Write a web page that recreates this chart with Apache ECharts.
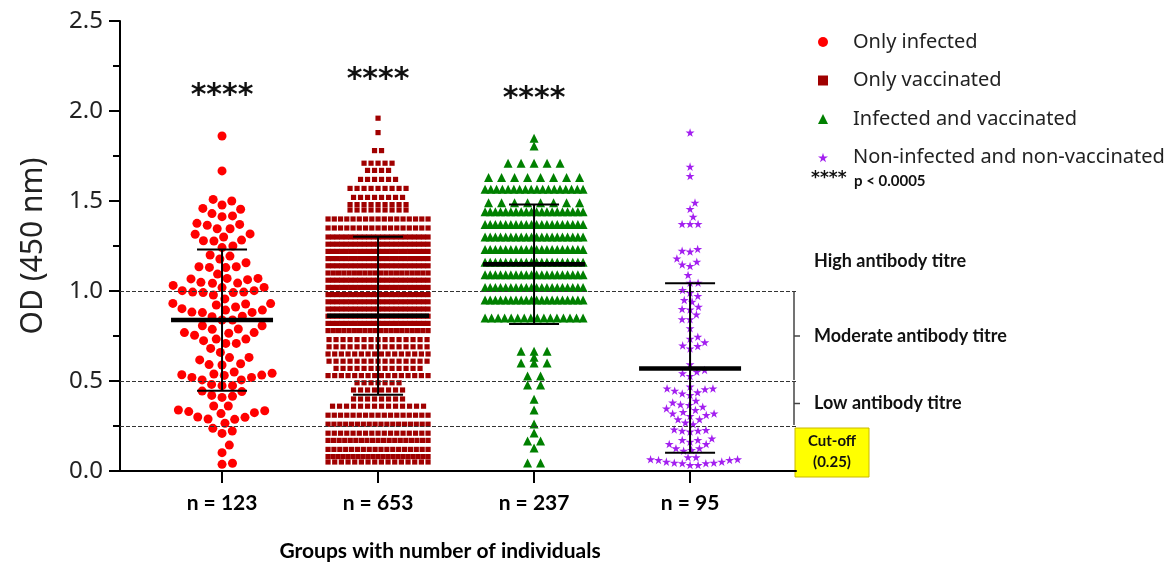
<!DOCTYPE html>
<html><head><meta charset="utf-8">
<script src="https://cdn.jsdelivr.net/npm/echarts@6/dist/echarts.min.js"></script>
<style>html,body{margin:0;padding:0;background:#fff}#c{width:1174px;height:566px}</style>
</head><body><div id="c"></div><script>
// ---------------- data ----------------
const groupNames = ['Only infected', 'Only vaccinated', 'Infected and vaccinated', 'Non-infected and non-vaccinated'];
const groupLabels = ['n = 123', 'n = 653', 'n = 237', 'n = 95'];

// Only infected: individual OD values
const g1Values = [1.861, 1.667,
  1.509, 1.478, 1.454, 1.459, 1.500, 1.430, 1.413, 1.417,
  1.346, 1.370, 1.365, 1.376, 1.346, 1.315, 1.317,
  1.283, 1.278, 1.279, 1.300, 1.241, 1.250, 1.194, 1.200, 1.178,
  1.135, 1.131, 1.130, 1.135, 1.157, 1.094,
  1.070, 1.067, 1.048, 1.043, 1.020, 1.019, 1.031, 1.044, 1.063, 1.070,
  1.002, 0.994, 0.991, 0.978, 0.991, 0.994, 1.002, 0.956,
  0.930, 0.911, 0.894, 0.883, 0.928, 0.880, 0.931, 0.857, 0.881, 0.894, 0.902, 0.922, 0.860,
  0.839, 0.839, 0.807, 0.789, 0.769, 0.765, 0.769, 0.787, 0.807,
  0.733, 0.724, 0.709, 0.681, 0.709, 0.733, 0.754,
  0.659, 0.630, 0.596, 0.589, 0.591, 0.617, 0.631,
  0.543, 0.535, 0.531, 0.520, 0.506, 0.481, 0.506, 0.520, 0.533, 0.539, 0.550,
  0.474, 0.444, 0.474, 0.441, 0.420, 0.409, 0.415,
  0.361, 0.300, 0.335, 0.287, 0.324, 0.265, 0.319, 0.330, 0.289, 0.339, 0.298, 0.361,
  0.209, 0.222, 0.237, 0.144, 0.102, 0.037, 0.043];

// Only vaccinated: OD level of each row of the swarm and number of points in it
const g2Levels = [1.96, 1.88, 1.78, 1.71, 1.67, 1.62, 1.57, 1.52, 1.48, 1.45, 1.40, 1.35,
  1.30, 1.26, 1.22, 1.18, 1.14, 1.10, 1.06, 1.02, 0.98, 0.94, 0.90, 0.86, 0.82, 0.78,
  0.73, 0.69, 0.65, 0.61, 0.57, 0.53, 0.49, 0.45, 0.40, 0.36, 0.31, 0.26, 0.21, 0.17, 0.12, 0.08, 0.05];
const g2Counts = [1, 1, 2, 5, 4, 6, 9, 8, 9, 9, 17, 17,
  23, 23, 23, 23, 23, 20, 23, 23, 23, 23, 23, 23, 23, 20,
  15, 15, 16, 15, 13, 16, 7, 8, 8, 14, 17, 18, 17, 19, 18, 21, 16];

// Infected and vaccinated: rows of the swarm
const g3Levels = [1.848, 1.806, 1.71, 1.63, 1.565, 1.49, 1.44, 1.37, 1.30, 1.23, 1.16, 1.09, 1.02, 0.95,
  0.85, 0.665, 0.632, 0.60, 0.528, 0.478, 0.398, 0.339, 0.261, 0.211, 0.166, 0.128, 0.044];
const g3Counts = [1, 1, 5, 8, 18, 8, 20, 20, 20, 20, 20, 20, 20, 20,
  16, 3, 1, 3, 2, 2, 1, 1, 1, 1, 2, 1, 2];

// Non-infected and non-vaccinated: individual OD values
const g4Values = [1.880, 1.691, 1.639, 1.491, 1.456, 1.413, 1.372, 1.372, 1.372,
  1.233, 1.219, 1.224, 1.181, 1.163, 1.148, 1.139, 1.089, 1.046, 1.046,
  1.006, 0.991, 0.972, 0.941, 0.913, 0.898, 0.870, 0.900, 0.843, 0.843, 0.793, 0.950,
  0.746, 0.735, 0.715, 0.694, 0.681, 0.698, 0.593, 0.552, 0.543, 0.561, 0.528,
  0.459, 0.454, 0.437, 0.422, 0.469, 0.431, 0.446, 0.459, 0.380, 0.391,
  0.370, 0.357, 0.339, 0.320, 0.311, 0.306, 0.320, 0.328, 0.348, 0.367,
  0.287, 0.269, 0.287, 0.260, 0.231, 0.224, 0.219, 0.224, 0.228,
  0.181, 0.172, 0.150, 0.126, 0.117, 0.113, 0.126, 0.150, 0.163, 0.172,
  0.076, 0.065, 0.061, 0.052, 0.046, 0.043, 0.033, 0.033, 0.043, 0.046, 0.052, 0.061, 0.065, 0.076];

// mean and error bar ends per group
const groupMeans = [0.839, 0.863, 1.148, 0.570];
const groupLower = [0.446, 0.424, 0.817, 0.102];
const groupUpper = [1.231, 1.302, 1.481, 1.043];

// significance stars
const sigGroups = [0, 1, 2];
const sigY = [2.083, 2.172, 2.067];
const sigText = '****';

// titre thresholds and bands
const thresholds = [1.0, 0.5, 0.25];
const bandTop = [1.0, 0.5];
const bandBottom = [0.5, 0.25];
const titreLabels = ['High antibody titre', 'Moderate antibody titre', 'Low antibody titre'];
const titreLabelY = [1.167, 0.75, 0.375];

// ---------------- layout ----------------
const W = 1174, H = 566;
const GRID = { left: 120, right: 378, top: 21, bottom: 95 };
const X_MIN = -0.654, X_MAX = 3.679, Y_MAX = 2.5;
const plotW = W - GRID.left - GRID.right;
const plotH = H - GRID.top - GRID.bottom;
const pxPerX = plotW / (X_MAX - X_MIN);
const pxPerY = plotH / Y_MAX;
const COLORS = ['#ff0000', '#a00000', '#008000', '#a31ff0'];
const STAR = 'path://M50,0 L61,35 L98,35 L68,57 L79,91 L50,70 L21,91 L32,57 L2,35 L39,35 Z';

function swarm(values, d) {
  const order = values.map((v, i) => i).sort((a, b) => values[a] - values[b]);
  const placed = [];
  const off = new Array(values.length).fill(0);
  let flip = 1;
  for (const i of order) {
    const y = values[i] * pxPerY;
    const near = placed.filter(p => Math.abs(p.y - y) < d);
    const cands = [0];
    near.forEach(p => {
      const dx = Math.sqrt(d * d - (p.y - y) * (p.y - y));
      cands.push(p.x + dx, p.x - dx);
    });
    cands.sort((a, b) => (Math.abs(a) - Math.abs(b)) || (flip * (a - b)));
    let x = 0;
    for (const c of cands) {
      if (near.every(p => (p.x - c) ** 2 + (p.y - y) ** 2 >= d * d - 1e-6)) { x = c; break; }
    }
    flip = -flip;
    placed.push({ x, y });
    off[i] = x;
  }
  return values.map((v, i) => ({ v, o: off[i] }));
}
function rows(levels, counts, nat, half) {
  const out = [];
  levels.forEach((lv, k) => {
    const n = counts[k];
    const step = n > 1 ? Math.min(nat, 2 * half / (n - 1)) : 0;
    for (let i = 0; i < n; i++) out.push({ v: lv, o: (i - (n - 1) / 2) * step });
  });
  return out;
}
const pts = [
  swarm(g1Values, 10.5),
  rows(g2Levels, g2Counts, 7, 50),
  rows(g3Levels, g3Counts, 13, 49),
  swarm(g4Values, 8)
];
const symbols = ['circle', 'rect', 'triangle', STAR];
const sizes = [9, 5.2, 9, 9];

const FONT_BOLD = 'Lato';
const series = pts.map((arr, g) => ({
  name: groupNames[g], type: 'scatter', z: 3,
  symbol: symbols[g], symbolSize: sizes[g], symbolKeepAspect: true,
  itemStyle: { color: COLORS[g], opacity: 1 },
  data: arr.map(p => [g + p.o / pxPerX, p.v]),
  silent: true
}));

// dashed threshold lines
series.push({
  type: 'line', data: [], z: 1, silent: true,
  markLine: {
    silent: true, symbol: ['none', 'none'], label: { show: false },
    lineStyle: { type: [4, 2], color: '#333', width: 1 },
    data: thresholds.map(t => ({ yAxis: t }))
  }
});

// error bars with mean
series.push({
  type: 'custom', z: 5, silent: true,
  data: groupMeans.map((m, i) => [i, m, groupLower[i], groupUpper[i]]),
  renderItem: (params, api) => {
    const c = api.coord([api.value(0), api.value(1)]);
    const lo = api.coord([api.value(0), api.value(2)]);
    const hi = api.coord([api.value(0), api.value(3)]);
    const x = c[0];
    const ls = { stroke: '#000', lineWidth: 2 };
    return { type: 'group', children: [
      { type: 'line', shape: { x1: x, y1: hi[1], x2: x, y2: lo[1] }, style: ls },
      { type: 'line', shape: { x1: x - 25, y1: hi[1], x2: x + 25, y2: hi[1] }, style: ls },
      { type: 'line', shape: { x1: x - 25, y1: lo[1], x2: x + 25, y2: lo[1] }, style: ls },
      { type: 'line', shape: { x1: x - 51, y1: c[1], x2: x + 51, y2: c[1] }, style: { stroke: '#000', lineWidth: 4.5 } }
    ] };
  }
});

// significance stars
series.push({
  type: 'custom', z: 5, silent: true,
  data: sigGroups.map((g, i) => [g, sigY[i]]),
  renderItem: (params, api) => {
    const p = api.coord([api.value(0), api.value(1)]);
    return { type: 'text', x: p[0], y: p[1], style: {
      text: sigText, fill: '#111', fontFamily: 'DejaVu Sans', fontSize: 30, fontWeight: 'bold',
      align: 'center', verticalAlign: 'middle' } };
  }
});

// titre brackets
series.push({
  type: 'custom', z: 4, silent: true, clip: false,
  data: bandTop.map((t, i) => [t, bandBottom[i]]),
  renderItem: (params, api) => {
    const x = params.coordSys.x + params.coordSys.width - 2;
    const y0 = api.coord([0, api.value(0)])[1];
    const y1 = api.coord([0, api.value(1)])[1];
    const ym = (y0 + y1) / 2;
    const st = { stroke: '#444', lineWidth: 1.5 };
    return { type: 'group', children: [
      { type: 'line', shape: { x1: x, y1: y0 + 1, x2: x, y2: y1 - 1 }, style: st },
      { type: 'line', shape: { x1: x, y1: ym, x2: x + 6, y2: ym }, style: st }
    ] };
  }
});
// titre labels
series.push({
  type: 'custom', z: 4, silent: true, clip: false,
  data: titreLabelY.map((y, i) => [i, y]),
  renderItem: (params, api) => {
    const x = params.coordSys.x + params.coordSys.width + 18;
    const y = api.coord([0, api.value(1)])[1];
    return { type: 'text', x: x, y: y, style: {
      text: titreLabels[params.dataIndex], fill: '#111', fontFamily: FONT_BOLD, fontWeight: 'bold',
      fontSize: 18, align: 'left', verticalAlign: 'middle' } };
  }
});

const option = {
  animation: false,
  backgroundColor: '#fff',
  grid: { left: GRID.left, right: GRID.right, top: GRID.top, bottom: GRID.bottom,
    containLabel: false, outerBoundsMode: 'none' },
  xAxis: {
    type: 'value', min: X_MIN, max: X_MAX,
    axisLine: { show: true, onZero: false, lineStyle: { color: '#000', width: 2 } },
    axisTick: { show: true, customValues: [0, 1, 2, 3], length: 12, lineStyle: { color: '#000', width: 2 } },
    axisLabel: { show: true, customValues: [0, 1, 2, 3], margin: 22,
      formatter: v => groupLabels[Math.round(v)] || '',
      color: '#000', fontFamily: FONT_BOLD, fontWeight: 'bold', fontSize: 21 },
    splitLine: { show: false },
    name: 'Groups with number of individuals', nameLocation: 'middle', nameGap: 70,
    nameTextStyle: { color: '#000', fontFamily: FONT_BOLD, fontWeight: 'bold', fontSize: 21, padding: [0, 36, 0, 0] }
  },
  yAxis: {
    type: 'value', min: 0, max: Y_MAX, interval: 0.5,
    axisLine: { show: true, onZero: false, lineStyle: { color: '#000', width: 2 } },
    axisTick: { show: true, length: 11, lineStyle: { color: '#000', width: 2 } },
    minorTick: { show: true, splitNumber: 2, length: 7, lineStyle: { color: '#000', width: 2 } },
    axisLabel: { margin: 17, color: '#222', fontFamily: 'Noto Sans', fontSize: 24,
      formatter: v => v.toFixed(1) },
    splitLine: { show: false },
    name: 'OD (450 nm)', nameLocation: 'middle', nameGap: 72, nameRotate: 90,
    nameTextStyle: { color: '#222', fontFamily: 'Noto Sans', fontSize: 30 }
  },
  legend: {
    show: true, orient: 'vertical', left: 813, top: 27,
    itemWidth: 10, itemHeight: 10, itemGap: 18.5, selectedMode: false,
    data: groupNames,
    textStyle: { color: '#222', fontFamily: 'Noto Sans', fontSize: 20, padding: [0, 0, 0, 20] }
  },
  graphic: [
    { type: 'text', x: 811, y: 179, style: { text: '****', fill: '#111', font: 'bold 17px "DejaVu Sans"', verticalAlign: 'middle' } },
    { type: 'text', x: 854, y: 181, style: { text: 'p < 0.0005', fill: '#111', font: 'bold 15px Lato', verticalAlign: 'middle' } },
    { type: 'rect', x: 795, y: 428, shape: { x: 0, y: 0, width: 74, height: 49 },
      style: { fill: '#ffff00', stroke: '#c9b800', lineWidth: 1 } },
    { type: 'text', x: 832, y: 452, style: { text: 'Cut-off\n(0.25)', align: 'center', verticalAlign: 'middle',
      fill: '#111', font: 'bold 15px Lato', lineHeight: 21 } }
  ],
  series: series
};
const chart = echarts.init(document.getElementById('c'), null, { renderer: 'canvas', width: W, height: H });
chart.setOption(option);
</script></body></html>
